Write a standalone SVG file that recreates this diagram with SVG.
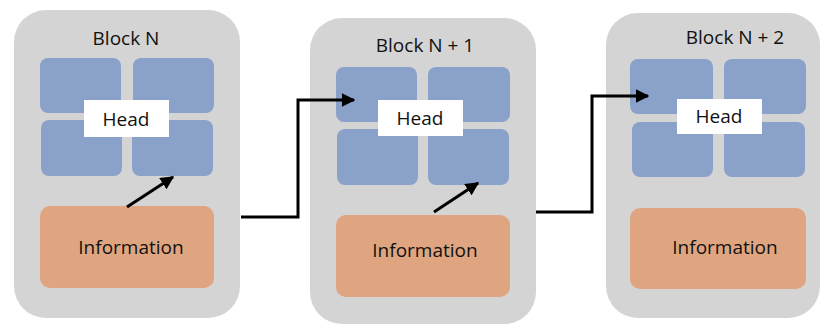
<svg xmlns="http://www.w3.org/2000/svg" width="821" height="325" viewBox="0 0 821 325">
<defs>
<style>
.outer{fill:#d4d4d4}
.cell{fill:#8aa2ca}
.info{fill:#dfa580}
.head{fill:#ffffff}
text{font-family:"Open Sans","Liberation Sans",sans-serif;fill:#111;text-anchor:middle}
.t{font-size:19px}
.line{fill:none;stroke:#000;stroke-width:3;stroke-linejoin:miter}
</style>
<marker id="ah" viewBox="0 0 10 10" refX="9" refY="5" markerWidth="4.5" markerHeight="4.5" orient="auto" markerUnits="strokeWidth">
<path d="M0,0 L10,5 L0,10 z" fill="#000"/>
</marker>
</defs>
<rect width="821" height="325" fill="#ffffff"/>
<g id="block-n">
<rect class="outer" x="14" y="10" width="226" height="308" rx="32"/>
<text class="t" x="126" y="45">Block N</text>
<rect class="cell" x="40" y="58" width="81" height="55" rx="8"/>
<rect class="cell" x="133" y="58" width="81" height="55" rx="8"/>
<rect class="cell" x="41" y="120" width="81" height="56" rx="8"/>
<rect class="cell" x="132" y="120" width="81" height="56" rx="8"/>
<rect class="head" x="84" y="100" width="85" height="37"/>
<text class="t" x="126" y="126">Head</text>
<rect class="info" x="40" y="206" width="174" height="82" rx="10"/>
<text class="t" x="131" y="254">Information</text>
</g>
<g id="block-n1">
<rect class="outer" x="310" y="18" width="226" height="306" rx="32"/>
<text class="t" x="425" y="52">Block N + 1</text>
<rect class="cell" x="336" y="67" width="81" height="55" rx="8"/>
<rect class="cell" x="428" y="67" width="82" height="55" rx="8"/>
<rect class="cell" x="337" y="129" width="81" height="56" rx="8"/>
<rect class="cell" x="428" y="129" width="81" height="56" rx="8"/>
<rect class="head" x="378" y="100" width="85" height="36"/>
<text class="t" x="420" y="125">Head</text>
<rect class="info" x="336" y="215" width="174" height="82" rx="10"/>
<text class="t" x="425" y="257">Information</text>
</g>
<g id="block-n2">
<rect class="outer" x="606" y="13" width="214" height="305" rx="32"/>
<text class="t" x="735" y="44">Block N + 2</text>
<rect class="cell" x="630" y="59" width="83" height="55" rx="8"/>
<rect class="cell" x="724" y="59" width="82" height="55" rx="8"/>
<rect class="cell" x="632" y="122" width="81" height="55" rx="8"/>
<rect class="cell" x="724" y="122" width="81" height="55" rx="8"/>
<rect class="head" x="677" y="99" width="85" height="35"/>
<text class="t" x="719" y="123">Head</text>
<rect class="info" x="630" y="208" width="176" height="81" rx="10"/>
<text class="t" x="725" y="254">Information</text>
</g>
<g id="connectors">
<path class="line" d="M241,217 H298 V100 H354" marker-end="url(#ah)"/>
<path class="line" d="M536,212 H592 V96 H648" marker-end="url(#ah)"/>
<path class="line" d="M127,207 L173,177" marker-end="url(#ah)"/>
<path class="line" d="M434,212 L478,183" marker-end="url(#ah)"/>
</g>
</svg>
